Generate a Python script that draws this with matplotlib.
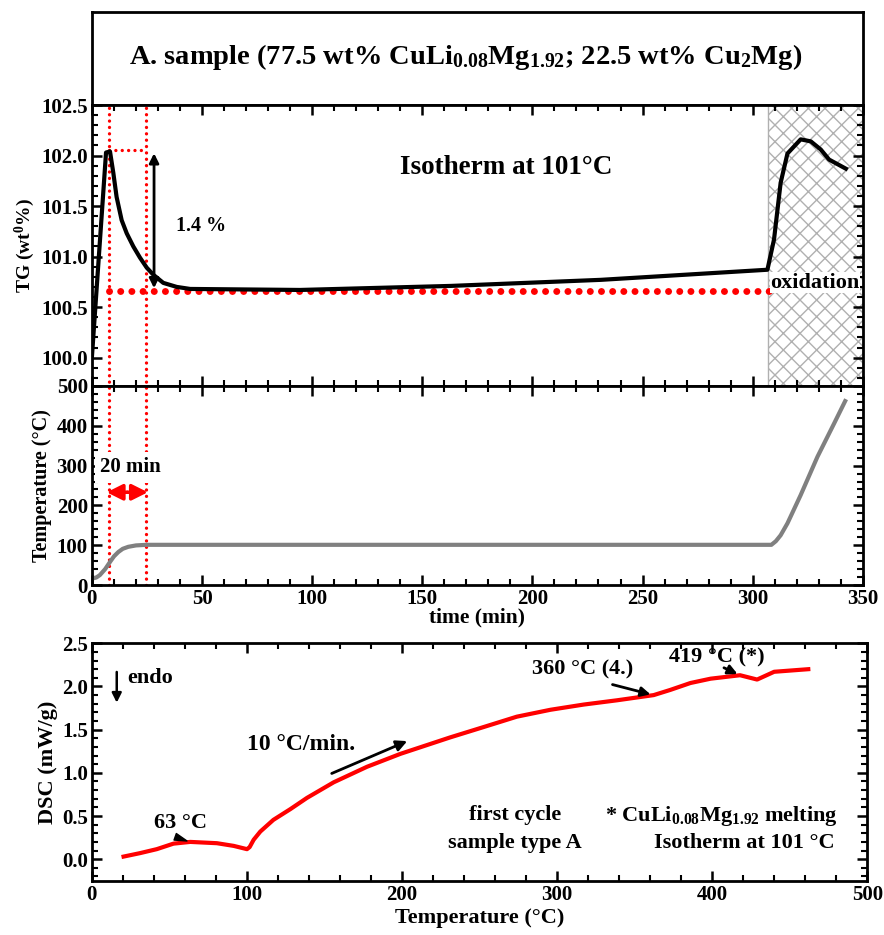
import matplotlib.pyplot as plt
import numpy as np
from matplotlib.ticker import MultipleLocator

plt.rcParams['font.family'] = ['Liberation Serif', 'DejaVu Serif']
plt.rcParams['font.weight'] = 'bold'
plt.rcParams['mathtext.fontset'] = 'custom'
plt.rcParams['mathtext.rm'] = 'Liberation Serif:bold'
plt.rcParams['mathtext.bf'] = 'Liberation Serif:bold'
plt.rcParams['mathtext.it'] = 'Liberation Serif:bold'

# TG vs time
tg_time = [0, 6.4, 8.2, 9.7, 11.2, 13.5, 15.8, 18.8, 21.8, 24.9, 27.9, 32.4, 38.5, 44.6,
           94.5, 163, 231, 306.7, 309.7, 312.7, 315.8, 321.8, 326.4, 330.9, 334.7, 342.3]
tg_val = [100.01, 102.03, 102.04, 101.83, 101.59, 101.36, 101.23, 101.10, 100.99, 100.89,
          100.82, 100.74, 100.70, 100.68, 100.67, 100.71, 100.77, 100.87, 101.17, 101.73, 102.02,
          102.16, 102.14, 102.06, 101.96, 101.87]

# temperature program vs time
temp_time = [0, 2, 3.6, 6, 8.2, 10, 12, 14, 16.5, 20, 24.8, 100, 200, 308.5, 310.5, 312.7,
             315.8, 321.8, 329.4, 337, 342]
temp_val = [16, 19, 25, 40, 58, 72, 83, 91, 96, 99.5, 101, 101, 101, 101, 110, 125,
            155, 226, 322, 406, 462]

# DSC vs temperature
dsc_temp = [20.4, 31, 41.8, 52.6, 63.4, 80.6, 91.4, 100, 101.7, 104.3, 108.6, 117, 128, 138.7,
            155.9, 177.4, 199, 231, 252.6, 274, 295.7, 317, 338.7, 362.3, 373, 386, 399, 418,
            429, 440, 462]
dsc_val = [0.03, 0.07, 0.116, 0.18, 0.20, 0.185, 0.154, 0.116, 0.14, 0.225, 0.32, 0.455, 0.58,
           0.71, 0.89, 1.07, 1.22, 1.41, 1.53, 1.65, 1.73, 1.79, 1.84, 1.90, 1.96, 2.04, 2.09,
           2.13, 2.08, 2.17, 2.20]

fig = plt.figure(figsize=(8.84, 9.35), dpi=100)

left, width = 0.104, 0.872
ax_title = fig.add_axes([left, 0.8877, width, 0.0995])
ax_tg = fig.add_axes([left, 0.5872, width, 0.3005])
ax_t = fig.add_axes([left, 0.3743, width, 0.2129], sharex=ax_tg)
ax_dsc = fig.add_axes([left, 0.058, 0.877, 0.254])

def style(ax):
    for s in ax.spines.values():
        s.set_linewidth(2)
        s.set_zorder(6)
    ax.tick_params(which='both', direction='in', top=True, right=True, labelsize=15, pad=3)
    ax.tick_params(which='major', length=7, width=1.8)
    ax.tick_params(which='minor', length=4, width=1.5)

big_dots = (0, (0.01, 1.6))
small_dots = (0, (0.01, 1.9))

# title box
ax_title.set_xticks([])
ax_title.set_yticks([])
for s in ax_title.spines.values():
    s.set_linewidth(2)
ax_title.text(0.485, 0.52, r'A. sample (77.5 wt% CuLi$_{0.08}$Mg$_{1.92}$; 22.5 wt% Cu$_2$Mg)',
              ha='center', va='center', fontsize=20.5, fontweight='bold', transform=ax_title.transAxes)

# TG panel
t1, t2 = 7.7, 24.4
tg_base, tg_peak = 100.66, 102.05
ax_tg.axvspan(307, 350, facecolor='none', edgecolor='#b0b0b0', hatch='xx', linewidth=1, zorder=0)
ax_tg.plot(tg_time, tg_val, color='black', lw=3, zorder=3)
for tv in (t1, t2):
    ax_tg.plot([tv, tv], [99.7, 102.5], color='red', ls=small_dots, lw=2.4,
               dash_capstyle='round', zorder=2)
ax_tg.plot([t1, t2], [tg_peak, tg_peak], color='red', ls=small_dots, lw=2.4,
           dash_capstyle='round', zorder=2)
ax_tg.plot([t1, 309], [tg_base, tg_base], color='red', ls=big_dots, lw=5,
           dash_capstyle='round', zorder=2)
ax_tg.annotate('', xy=(28.2, tg_peak), xytext=(28.2, tg_base),
               arrowprops=dict(arrowstyle='<|-|>', color='black', lw=2, mutation_scale=14), zorder=4)
ax_tg.text(38, 101.3, '1.4 %', fontsize=14.5, fontweight='bold', va='center')
ax_tg.text(140, 101.88, 'Isotherm at 101°C', fontsize=19.5, fontweight='bold', va='center')
ax_tg.text(308, 100.74, 'oxidation', fontsize=16, fontweight='bold', va='center',
           bbox=dict(facecolor='white', edgecolor='none', pad=0.3), zorder=5)
ax_tg.set_ylim(99.72, 102.5)
ax_tg.set_xlim(0, 350)
ax_tg.yaxis.set_minor_locator(MultipleLocator(0.1))
ax_tg.set_yticks([100.0, 100.5, 101.0, 101.5, 102.0, 102.5])
ax_tg.yaxis.set_major_formatter(plt.FormatStrFormatter('%.1f'))
ax_tg.set_ylabel('TG (wt$^0$%)', fontsize=14, fontweight='bold', labelpad=3)
style(ax_tg)
ax_tg.tick_params(axis='x', which='both', labelbottom=False)

# temperature panel
ax_t.plot(temp_time, temp_val, color='#808080', lw=3, zorder=3)
for tv in (t1, t2):
    ax_t.plot([tv, tv], [0, 500], color='red', ls=small_dots, lw=2.4,
              dash_capstyle='round', zorder=2)
tm = (t1 + t2) / 2
ax_t.text(tm + 1.5, 296, '20 min', ha='center', va='center', fontsize=15, fontweight='bold',
          bbox=dict(facecolor='white', edgecolor='none', pad=4), zorder=4)
ax_t.annotate('', xy=(t1 - 1, 233), xytext=(tm, 233),
              arrowprops=dict(arrowstyle='-|>', color='red', lw=2.5, mutation_scale=24,
                              shrinkA=0, shrinkB=0), zorder=5)
ax_t.annotate('', xy=(t2 + 1, 233), xytext=(tm, 233),
              arrowprops=dict(arrowstyle='-|>', color='red', lw=2.5, mutation_scale=24,
                              shrinkA=0, shrinkB=0), zorder=5)
ax_t.set_ylim(0, 500)
ax_t.yaxis.set_major_locator(MultipleLocator(100))
ax_t.yaxis.set_minor_locator(MultipleLocator(20))
ax_t.xaxis.set_major_locator(MultipleLocator(50))
ax_t.xaxis.set_minor_locator(MultipleLocator(10))
ax_t.set_ylabel('Temperature (°C)', fontsize=14.5, fontweight='bold', labelpad=3)
ax_t.set_xlabel('time (min)', fontsize=15.5, fontweight='bold', labelpad=-1)
style(ax_t)

# DSC panel
fs = 16
ax_dsc.plot(dsc_temp, dsc_val, color='red', lw=3)
ax_dsc.annotate('', xy=(16, 1.78), xytext=(16, 2.2),
                arrowprops=dict(arrowstyle='-|>', color='black', lw=1.8, mutation_scale=14))
ax_dsc.text(23, 2.1, 'endo', fontsize=fs, fontweight='bold', va='center')
ax_dsc.text(40, 0.42, '63 °C', fontsize=fs, fontweight='bold', va='center')
ax_dsc.annotate('', xy=(63, 0.2), xytext=(52, 0.27),
                arrowprops=dict(arrowstyle='wedge,tail_width=0.5', color='black', lw=1))
ax_dsc.text(100, 1.33, '10 °C/min.', fontsize=17, fontweight='bold', va='center')
ax_dsc.annotate('', xy=(205, 1.38), xytext=(153, 0.98),
                arrowprops=dict(arrowstyle='-|>', color='black', lw=2, mutation_scale=16))
ax_dsc.text(273, 0.51, 'first cycle', ha='center', va='center', fontsize=fs, fontweight='bold')
ax_dsc.text(273, 0.19, 'sample type A', ha='center', va='center', fontsize=fs, fontweight='bold')
ax_dsc.text(284, 2.2, '360 °C (4.)', fontsize=fs, fontweight='bold', va='center')
ax_dsc.annotate('', xy=(362, 1.9), xytext=(334, 2.03),
                arrowprops=dict(arrowstyle='-|>', color='black', lw=2, mutation_scale=14))
ax_dsc.text(372, 2.33, '419 °C (*)', fontsize=fs, fontweight='bold', va='center')
ax_dsc.annotate('', xy=(418, 2.13), xytext=(406, 2.23),
                arrowprops=dict(arrowstyle='-|>', color='black', lw=2, mutation_scale=14))
ax_dsc.text(481, 0.5, r'* CuLi$_{0.08}$Mg$_{1.92}$ melting', ha='right', va='center',
            fontsize=fs, fontweight='bold')
ax_dsc.text(479, 0.19, 'Isotherm at 101 °C', ha='right', va='center', fontsize=fs, fontweight='bold')
ax_dsc.set_xlim(0, 500)
ax_dsc.set_ylim(-0.25, 2.5)
ax_dsc.xaxis.set_major_locator(MultipleLocator(100))
ax_dsc.xaxis.set_minor_locator(MultipleLocator(20))
ax_dsc.yaxis.set_major_locator(MultipleLocator(0.5))
ax_dsc.yaxis.set_minor_locator(MultipleLocator(0.1))
ax_dsc.yaxis.set_major_formatter(plt.FormatStrFormatter('%.1f'))
ax_dsc.set_xlabel('Temperature (°C)', fontsize=16, fontweight='bold', labelpad=2)
ax_dsc.set_ylabel('DSC (mW/g)', fontsize=16, fontweight='bold', labelpad=3)
style(ax_dsc)

plt.savefig('out.png', dpi=100)
